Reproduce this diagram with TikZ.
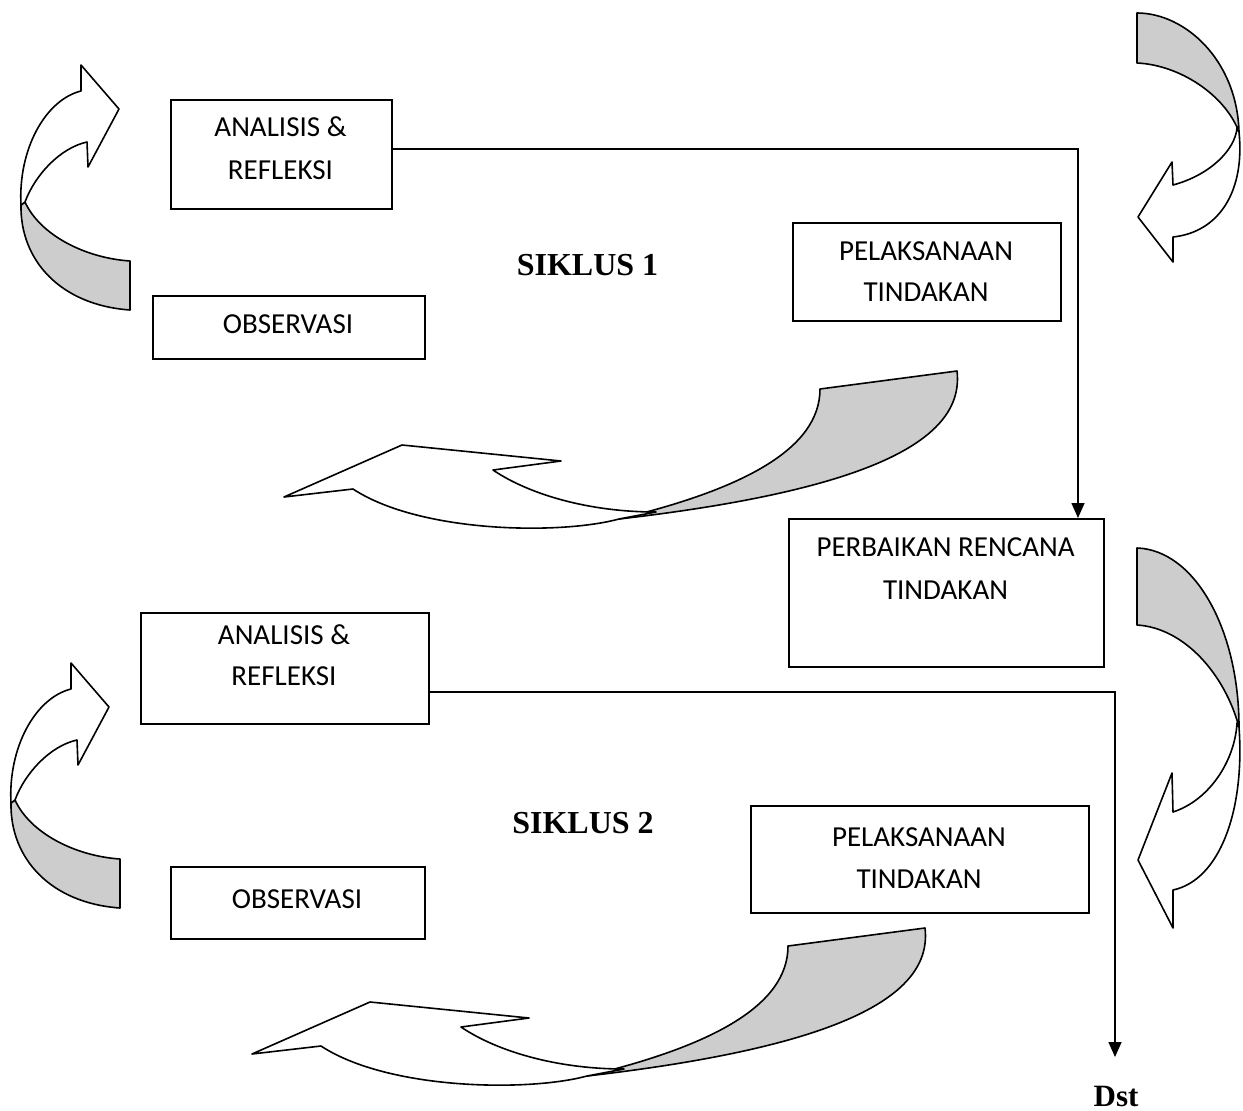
\documentclass[tikz,border=0pt]{standalone}
\usepackage{fontspec}
\setmainfont{Liberation Serif}
\newfontfamily\boxfont{Carlito}
\usetikzlibrary{arrows.meta}
\definecolor{shade}{RGB}{205,205,205}
\newcommand{\leftcurl}{%
  \filldraw[band, fill=shade] (21,205) .. controls (20,260) and (60,305) .. (130,310) -- (130,261) .. controls (85,258) and (40,235) .. (25,202) -- cycle;
  \filldraw[band, fill=white] (21,205) .. controls (18,150) and (45,100) .. (81,91) -- (81,65) -- (119,109) -- (88,167) -- (87,142) .. controls (60,148) and (35,175) .. (25,202) -- cycle;}
\newcommand{\bottomcurl}{%
  \filldraw[band, fill=shade] (957,371) .. controls (965,440) and (870,490) .. (619,519) .. controls (740,490) and (820,450) .. (820,389) -- cycle;
  \filldraw[band, fill=white] (619,519) .. controls (560,535) and (420,533) .. (353,489) -- (284,497) -- (402,445) -- (561,461) -- (493,470) .. controls (530,495) and (590,512) .. (656,512) -- cycle;}
\begin{document}
\begin{tikzpicture}[x=1pt,y=-1pt,
  box/.style={draw, line width=1.7pt, inner sep=0pt, anchor=north west},
  lbl/.style={font=\boxfont\fontsize{29}{34}\selectfont, anchor=base, inner sep=0pt},
  ttl/.style={font=\fontsize{32}{38}\selectfont\bfseries, anchor=base, inner sep=0pt},
  band/.style={line width=1.6pt, line join=round},
  conn/.style={line width=1.6pt},
  tip/.style={-{Triangle[length=15pt,width=13pt]}}]
\useasboundingbox (0,0) rectangle (1243,1111);
\fill[white] (0,0) rectangle (1243,1111);

% curved arrows
\leftcurl
\begin{scope}[shift={(-10,598)}]\leftcurl\end{scope}
\bottomcurl
\begin{scope}[shift={(-32,557)}]\bottomcurl\end{scope}
% top right
\filldraw[band, fill=shade] (1137,13) .. controls (1185,13) and (1237,60) .. (1239,132) .. controls (1225,95) and (1180,65) .. (1137,63) -- cycle;
\filldraw[band, fill=white] (1239,132) .. controls (1245,190) and (1220,232) .. (1173,237) -- (1173,262) -- (1138,217) -- (1172,162) -- (1173,185) .. controls (1210,175) and (1235,150) .. (1237,128) -- cycle;
% right middle
\filldraw[band, fill=shade] (1137,548) .. controls (1195,550) and (1239,630) .. (1239,727) .. controls (1225,675) and (1185,628) .. (1137,625) -- cycle;
\filldraw[band, fill=white] (1239,727) .. controls (1245,810) and (1220,880) .. (1173,890) -- (1173,928) -- (1138,860) -- (1172,773) -- (1173,812) .. controls (1210,800) and (1235,760) .. (1237,723) -- cycle;

% boxes
\node[box, minimum width=221pt, minimum height=109pt] (ana1) at (170,99) {};
\node[box, minimum width=268pt, minimum height=98pt] (pel1) at (792,222) {};
\node[box, minimum width=272pt, minimum height=63pt] (obs1) at (152,295) {};
\node[box, minimum width=315pt, minimum height=148pt] (perb) at (788,518) {};
\node[box, minimum width=288pt, minimum height=111pt] (ana2) at (140,612) {};
\node[box, minimum width=338pt, minimum height=107pt] (pel2) at (750,805) {};
\node[box, minimum width=254pt, minimum height=72pt] (obs2) at (170,866) {};

% texts
\node[lbl] (t1) at (280.5,136.7) {ANALISIS \&};
\node[lbl] (t2) at (280.5,179.3) {REFLEKSI};
\node[lbl] (t3) at (926,260) {PELAKSANAAN};
\node[lbl] (t4) at (926,301) {TINDAKAN};
\node[lbl] (t5) at (288,333) {OBSERVASI};
\node[lbl] (t6) at (945.5,556.7) {PERBAIKAN RENCANA};
\node[lbl] (t7) at (945.5,599) {TINDAKAN};
\node[lbl] (t8) at (284,644.5) {ANALISIS \&};
\node[lbl] (t9) at (284,685.5) {REFLEKSI};
\node[lbl] (t10) at (919,846) {PELAKSANAAN};
\node[lbl] (t11) at (919,888) {TINDAKAN};
\node[lbl] (t12) at (297,908) {OBSERVASI};
\node[ttl] (s1) at (587.5,275) {SIKLUS 1};
\node[ttl] (s2) at (583,833) {SIKLUS 2};
\node[ttl, font=\fontsize{31}{37}\selectfont\bfseries] (dst) at (1116,1106) {Dst};

% connectors
\coordinate (c1) at (1078,149);
\coordinate (c2) at (1115,692);
\coordinate (d1) at (1115,1057);
\draw[conn, tip] (ana1.east |- c1) -- (c1) -- (c1 |- perb.north);
\draw[conn, tip] (ana2.east |- c2) -- (c2) -- (d1);
\end{tikzpicture}
\end{document}
